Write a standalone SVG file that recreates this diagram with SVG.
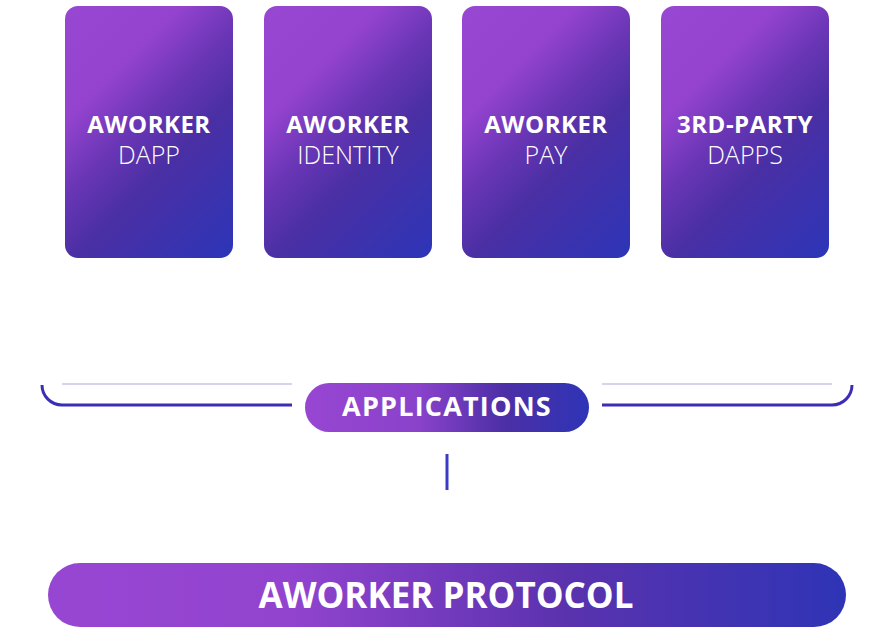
<svg xmlns="http://www.w3.org/2000/svg" width="888" height="634" viewBox="0 0 888 634">
<defs>
<linearGradient id="cardG" gradientUnits="userSpaceOnUse" x1="0" y1="0" x2="210" y2="210">
<stop offset="0" stop-color="#9747d2"/>
<stop offset="0.28" stop-color="#9343ce"/>
<stop offset="0.45" stop-color="#6a36b6"/>
<stop offset="0.62" stop-color="#4a2fa4"/>
<stop offset="1" stop-color="#2c35b8"/>
</linearGradient>
<linearGradient id="pillG" x1="0" y1="0" x2="1" y2="0">
<stop offset="0" stop-color="#9746d2"/>
<stop offset="0.4" stop-color="#8a42cb"/>
<stop offset="0.7" stop-color="#4c2fa6"/>
<stop offset="1" stop-color="#2e34b6"/>
</linearGradient>
<linearGradient id="barG" x1="0" y1="0" x2="1" y2="0">
<stop offset="0" stop-color="#9746d2"/>
<stop offset="0.3" stop-color="#9244cf"/>
<stop offset="0.65" stop-color="#5a32ae"/>
<stop offset="1" stop-color="#2e34b6"/>
</linearGradient>
<style>
.card{fill:url(#cardG)}
.t{font-family:"Open Sans","Liberation Sans",sans-serif;fill:#ffffff;text-anchor:middle}
.b{font-weight:700;font-size:24px;letter-spacing:0.5px}
.r{font-weight:300;font-size:25px}
.light{stroke:#cbc3ea;stroke-width:1.5;fill:none}
.dark{stroke:#3a2db8;stroke-width:3;fill:none}
</style>
</defs>
<rect width="888" height="634" fill="#ffffff"/>
<g id="card-dapp" transform="translate(65,6)">
<rect class="card" x="0" y="0" width="168" height="252" rx="13"/>
<text class="t b" x="84" y="127">AWORKER</text>
<text class="t r" x="84" y="158">DAPP</text>
</g>
<g id="card-identity" transform="translate(264,6)">
<rect class="card" x="0" y="0" width="168" height="252" rx="13"/>
<text class="t b" x="84" y="127">AWORKER</text>
<text class="t r" x="84" y="158">IDENTITY</text>
</g>
<g id="card-pay" transform="translate(462,6)">
<rect class="card" x="0" y="0" width="168" height="252" rx="13"/>
<text class="t b" x="84" y="127">AWORKER</text>
<text class="t r" x="84" y="158">PAY</text>
</g>
<g id="card-3rdparty" transform="translate(661,6)">
<rect class="card" x="0" y="0" width="168" height="252" rx="13"/>
<text class="t b" x="84" y="127">3RD-PARTY</text>
<text class="t r" x="84" y="158">DAPPS</text>
</g>
<g id="connectors">
<line class="light" x1="62" y1="384" x2="292" y2="384"/>
<line class="light" x1="602" y1="384" x2="832" y2="384"/>
<path class="dark" d="M42,385 A20,20 0 0 0 62,405 H292"/>
<path class="dark" d="M602,405 H832 A20,20 0 0 0 852,385"/>
<line x1="447" y1="454" x2="447" y2="490" stroke="#3a3ac4" stroke-width="3"/>
</g>
<g id="applications">
<rect x="305" y="383" width="284" height="49" rx="24.5" fill="url(#pillG)"/>
<text class="t" x="447" y="416" font-size="27" font-weight="700" letter-spacing="1.2">APPLICATIONS</text>
</g>
<g id="protocol">
<rect x="48" y="563" width="798" height="64" rx="32" fill="url(#barG)"/>
<text class="t" x="446" y="608" font-size="35" font-weight="700">AWORKER PROTOCOL</text>
</g>
</svg>
